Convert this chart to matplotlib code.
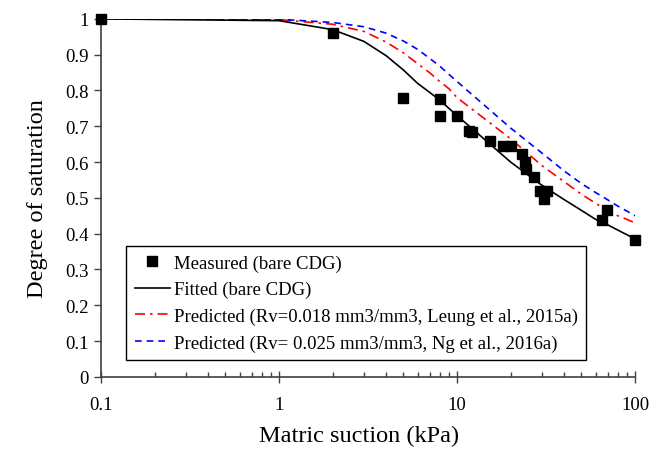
import matplotlib
matplotlib.use("Agg")
import matplotlib.pyplot as plt
from matplotlib.ticker import FixedLocator, NullFormatter, LogLocator

plt.rcParams['font.family'] = ['Liberation Serif', 'DejaVu Serif']

# measured points (bare CDG)
meas_x = [0.1, 2, 5, 8, 8, 10, 11.6, 12.1, 15.3, 18.2, 20, 23.1, 24.1, 24.5,
          27.2, 29.3, 30.6, 31.9, 65, 69.3, 100]
meas_y = [1.0, 0.96, 0.78, 0.775, 0.728, 0.73, 0.688, 0.683, 0.66, 0.646, 0.646,
          0.623, 0.60, 0.58, 0.558, 0.52, 0.497, 0.52, 0.437, 0.465, 0.383]

# curves
curve_x = [0.1, 1, 2, 3, 4, 5, 6, 7, 8, 9, 10, 20, 30, 40, 50, 60, 70, 80, 90, 100]
fit_y = [1.0, 0.995, 0.97, 0.937, 0.897, 0.857, 0.82, 0.795, 0.773, 0.75, 0.73,
         0.60, 0.535, 0.495, 0.465, 0.44, 0.425, 0.41, 0.397, 0.385]
pred1_y = [1.0, 0.998, 0.985, 0.965, 0.935, 0.905, 0.875, 0.85, 0.825, 0.805, 0.78,
           0.665, 0.59, 0.545, 0.51, 0.485, 0.465, 0.45, 0.44, 0.43]
pred2_y = [1.0, 0.999, 0.99, 0.978, 0.96, 0.938, 0.915, 0.89, 0.868, 0.845, 0.825,
           0.695, 0.625, 0.575, 0.54, 0.515, 0.495, 0.477, 0.463, 0.45]

labels = ["Measured (bare CDG)",
          "Fitted (bare CDG)",
          "Predicted (Rv=0.018 mm3/mm3, Leung et al., 2015a)",
          "Predicted (Rv= 0.025 mm3/mm3, Ng et al., 2016a)"]

fig = plt.figure(figsize=(6.65, 4.52), dpi=100)
ax = fig.add_axes([0.152, 0.164, 0.803, 0.792])

ax.plot(meas_x, meas_y, 's', color='black', markersize=7.5, label=labels[0], zorder=4,
        clip_on=False)
ax.plot(curve_x, fit_y, '-', color='black', lw=1.2, label=labels[1], zorder=3)
ax.plot(curve_x, pred1_y, color='red', lw=1.2, dashes=(6, 3, 1.5, 3), label=labels[2], zorder=2)
ax.plot(curve_x, pred2_y, color='blue', lw=1.2, dashes=(4, 3), label=labels[3], zorder=2)

ax.set_xscale('log')
ax.set_xlim(0.1, 100)
ax.set_ylim(0, 1)

ax.set_yticks([i / 10 for i in range(11)])
ax.set_yticklabels(['0', '0.1', '0.2', '0.3', '0.4', '0.5', '0.6', '0.7', '0.8', '0.9', '1'])
ax.xaxis.set_major_locator(FixedLocator([0.1, 1, 10, 100]))
ax.set_xticklabels(['0.1', '1', '10', '100'])
ax.xaxis.set_minor_locator(LogLocator(base=10, subs=range(2, 10)))
ax.xaxis.set_minor_formatter(NullFormatter())

for s in ['top', 'right']:
    ax.spines[s].set_visible(False)
for s in ['left', 'bottom']:
    ax.spines[s].set_color('#404040')
    ax.spines[s].set_linewidth(1.2)

ax.tick_params(axis='y', which='major', direction='out', length=5, width=1, color='#404040',
               labelsize=13.5, pad=4)
ax.tick_params(axis='x', which='major', direction='inout', length=8, width=1, color='#404040',
               labelsize=13.5, pad=10)
ax.tick_params(axis='x', which='minor', direction='in', length=3.5, width=1, color='#404040')

ax.set_xlabel('Matric suction (kPa)', fontsize=17.5, labelpad=10)
ax.xaxis.set_label_coords(0.484, -0.135)
ax.set_ylabel('Degree of saturation', fontsize=17.5, labelpad=12)

leg = ax.legend(loc='lower left', bbox_to_anchor=(0.047, 0.047), fontsize=13.5,
                frameon=True, fancybox=False, edgecolor='black', framealpha=1,
                handlelength=1.9, handletextpad=0.2, labelspacing=0.5,
                borderpad=0.45, borderaxespad=0)
leg.get_frame().set_linewidth(1.0)

fig.savefig('out.png', dpi=100)
